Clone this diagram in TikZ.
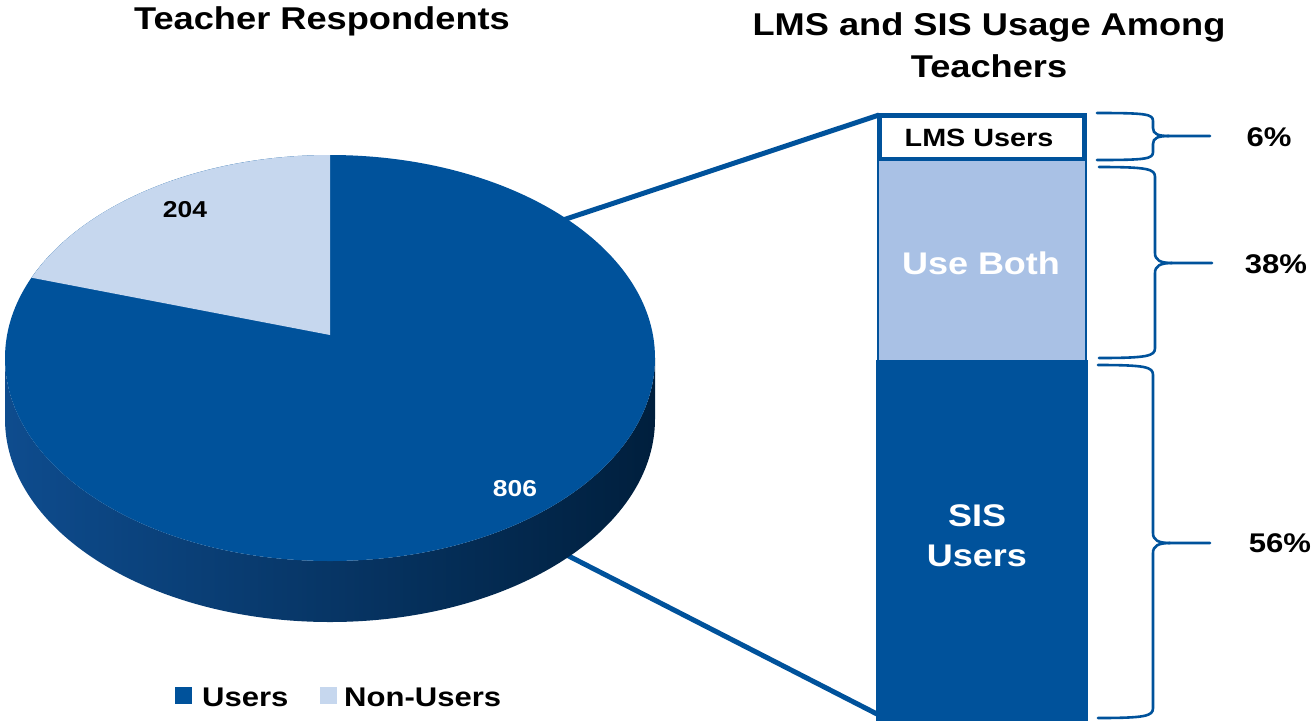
\documentclass[tikz,border=0pt]{standalone}
\usepackage{fontspec}
\setmainfont{Liberation Sans}[FakeStretch=1.15]
\definecolor{mainblue}{HTML}{00529B}
\definecolor{lightslice}{HTML}{C6D7EE}
\definecolor{useboth}{HTML}{A9C1E5}
\definecolor{sideL}{HTML}{0E4C8E}
\definecolor{sideM}{HTML}{012D5A}
\definecolor{sideR}{HTML}{001F3D}
\newcommand{\fs}[1]{\fontsize{#1}{#1}\selectfont\bfseries}
\begin{document}
\begin{tikzpicture}[x=1pt,y=-1pt,
  txt/.style={inner sep=0pt, text=black},
  conn/.style={draw=mainblue, line width=5pt},
  bracestyle/.style={draw=mainblue, line width=2.6pt, line cap=round},
  seg/.style={draw=mainblue, inner sep=0pt, outer sep=0pt},
  legbox/.style={minimum size=17pt, inner sep=0pt}]
\useasboundingbox (0,0) rectangle (1314,721);

% titles
\node[txt, font=\fs{31.5}] (t1) at (322,21) {Teacher Respondents};
\node[txt, font=\fs{31.5}, align=center] (t2) at (989,45) {LMS and SIS Usage Among\\[10pt]Teachers};

% connectors (drawn first, the pie covers their starts)
\coordinate (pieU) at (560,221);
\coordinate (pieL) at (555,549);
\coordinate (barBL) at (877,714);

% bar
\node[seg, fill=white, line width=5pt, minimum width=205pt, minimum height=44pt] (lms) at (981.5,137) {};
\node[seg, fill=useboth, line width=2.5pt, minimum width=208pt, minimum height=201pt] (both) at (982,260.5) {};
\node[seg, fill=mainblue, line width=2.5pt, minimum width=209pt, minimum height=359pt] (sis) at (982,540.5) {};
\draw[conn] (pieU) -- (lms.north west);
\draw[conn] (pieL) -- (barBL);

\node[txt, font=\fs{25}] (lmslbl) at (979,138) {LMS Users};
\node[txt, text=white, font=\fs{31.3}] (bothlbl) at (981,263) {Use Both};
\node[txt, text=white, font=\fs{31.3}, align=center] (sislbl) at (977,536) {SIS\\[9pt]Users};

% pie side
\shade[left color=sideL, middle color=sideM, right color=sideR]
  (5,358) arc[start angle=180, end angle=360, x radius=325pt, y radius=203pt]
  -- (655,419) arc[start angle=0, end angle=-180, x radius=325pt, y radius=203pt] -- cycle;
% pie top
\fill[mainblue] (330,358) ellipse [x radius=325pt, y radius=203pt];
\fill[lightslice] (330,335) -- (330,155)
  arc[start angle=90, end angle=156.7, x radius=325pt, y radius=203pt] -- cycle;
\node[txt, font=\fs{23}] (n204) at (185,210) {204};
\node[txt, text=white, font=\fs{23}] (n806) at (515,489) {806};

% braces
\draw[bracestyle] (1097,113) .. controls (1146,113) and (1153,114) .. (1153,121) -- (1153,128)
  .. controls (1153,134) and (1158,136) .. (1169,136) -- (1210,136);
\draw[bracestyle] (1169,136) .. controls (1158,136) and (1153,138) .. (1153,144) -- (1153,152)
  .. controls (1153,159) and (1146,160) .. (1097,160);

\draw[bracestyle] (1099,167) .. controls (1148,167) and (1155,169) .. (1155,177) -- (1155,253)
  .. controls (1155,260) and (1160,263) .. (1172,263) -- (1212,263);
\draw[bracestyle] (1172,263) .. controls (1160,263) and (1155,266) .. (1155,273) -- (1155,348)
  .. controls (1155,356) and (1148,358) .. (1099,358);

\draw[bracestyle] (1098,365) .. controls (1146,365) and (1153,367) .. (1153,375) -- (1153,533)
  .. controls (1153,540) and (1158,543) .. (1170,543) -- (1210,543);
\draw[bracestyle] (1170,543) .. controls (1158,543) and (1153,546) .. (1153,553) -- (1153,708)
  .. controls (1153,716) and (1146,718) .. (1098,718);

\node[txt, font=\fs{27}] (p6) at (1269,137) {6\%};
\node[txt, font=\fs{27}] (p38) at (1276,264) {38\%};
\node[txt, font=\fs{27}] (p56) at (1280,543) {56\%};

% legend
\node[legbox, fill=mainblue] (lg1) at (183.5,695) {};
\node[txt, anchor=west, font=\fs{27}] (lg1t) at (202,697) {Users};
\node[legbox, fill=lightslice] (lg2) at (328,695) {};
\node[txt, anchor=west, font=\fs{27}] (lg2t) at (344,697) {Non-Users};
\end{tikzpicture}
\end{document}
